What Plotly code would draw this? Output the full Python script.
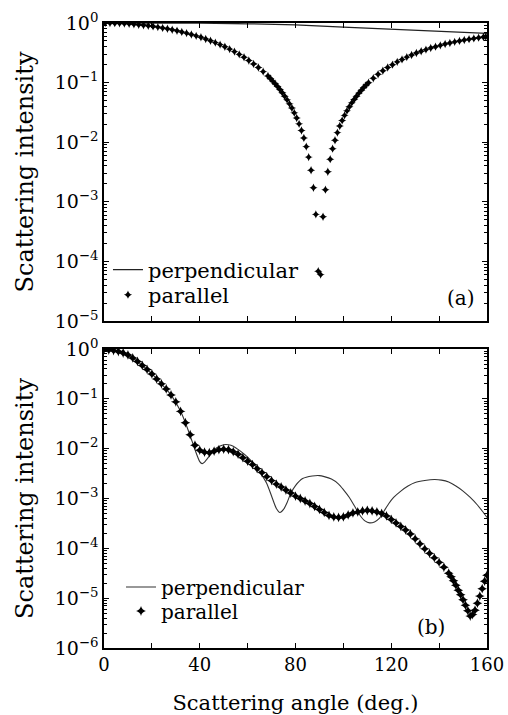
import plotly.graph_objects as go

# ---------------- panel (a) ----------------
angle_a_par = [0.5, 2.5, 4.5, 6.5, 8.5, 10.5, 12.5, 14.5, 16.5, 18.5, 20.5, 22.5, 24.5, 26.5,
               28.5, 30.5, 32.5, 34.5, 36.5, 38.5, 40.5, 42.5, 44.5, 46.5, 48.5, 50.5, 52.5,
               54.5, 56.5, 58.5, 60.5, 62.5, 64.5, 66.5, 68.5, 69.5, 70.5, 71.5, 72.5, 73.5,
               74.5, 75.5, 76.5, 77.5, 78.5, 79.5, 80.5, 81.5, 82.5, 83.5, 84.5, 85.5, 86.5,
               87.5, 88.5, 89.5, 90.5, 91.5, 92.5, 93.5, 94.5, 95.5, 96.5, 97.5, 98.5, 99.5,
               100.5, 101.5, 102.5, 103.5, 104.5, 105.5, 106.5, 107.5, 108.5, 109.5, 110.5,
               112.5, 114.5, 116.5, 118.5, 120.5, 122.5, 124.5, 126.5, 128.5, 130.5, 132.5,
               134.5, 136.5, 138.5, 140.5, 142.5, 144.5, 146.5, 148.5, 150.5, 152.5, 154.5,
               156.5, 158.5, 159.5]
parallel_a = [1.0, 0.998, 0.994, 0.987, 0.978, 0.967, 0.953, 0.937, 0.919, 0.899, 0.877, 0.853,
              0.827, 0.800, 0.771, 0.741, 0.709, 0.677, 0.643, 0.609, 0.575, 0.540, 0.504, 0.469,
              0.434, 0.399, 0.365, 0.331, 0.298, 0.266, 0.235, 0.206, 0.179, 0.153, 0.129, 0.117,
              0.106, 0.0960, 0.0859, 0.0765, 0.0676, 0.0592, 0.0514, 0.0440, 0.0374, 0.0311,
              0.0254, 0.0203, 0.0157, 0.0118, 0.00843, 0.00562, 0.00339, 0.00172, 0.000616,
              0.0000682, 0.0000600, 0.000560, 0.00160, 0.00320, 0.00520, 0.00780, 0.0108,
              0.0145, 0.0187, 0.0232, 0.0282, 0.0336, 0.0394, 0.0457, 0.0523, 0.0593, 0.0667,
              0.0745, 0.0826, 0.0910, 0.0999, 0.118, 0.138, 0.158, 0.179, 0.200, 0.223, 0.245,
              0.268, 0.291, 0.313, 0.336, 0.358, 0.380, 0.401, 0.422, 0.443, 0.463, 0.483, 0.501,
              0.518, 0.536, 0.552, 0.568, 0.582, 0.588]
angle_a_perp = [0, 20, 40, 60, 80, 100, 120, 140, 160]
perpendicular_a = [1.0, 1.0, 0.995, 0.97, 0.933, 0.85, 0.78, 0.71, 0.67]

# ---------------- panel (b) ----------------
angle_b_par = [0, 2, 4, 6, 8, 10, 12, 14, 16, 18, 20, 22, 24, 26, 28, 30, 32, 34, 36, 38, 40,
               42, 44, 46, 48, 50, 52, 54, 56, 58, 60, 62, 64, 66, 68, 70, 72, 74, 76, 78, 80,
               82, 84, 86, 88, 90, 92, 94, 96, 98, 100, 102, 104, 106, 108, 110, 112, 114, 116,
               118, 120, 122, 124, 126, 128, 130, 132, 134, 136, 138, 140, 142, 144, 145, 146,
               147, 148, 149, 150, 151, 152, 153, 154, 155, 156, 157, 158, 159, 160]
parallel_b = [0.977, 0.955, 0.933, 0.891, 0.832, 0.759, 0.661, 0.562, 0.468, 0.389, 0.316, 0.251,
              0.200, 0.158, 0.120, 0.0871, 0.0562, 0.0331, 0.0191, 0.0117, 0.00933, 0.00851,
              0.00832, 0.00891, 0.00955, 0.00977, 0.00955, 0.00871, 0.00776, 0.00661, 0.00562,
              0.00479, 0.00398, 0.00331, 0.00275, 0.00229, 0.00195, 0.00170, 0.00148, 0.00129,
              0.00112, 0.00100, 0.000891, 0.000794, 0.000692, 0.000603, 0.000525, 0.000457,
              0.000427, 0.000417, 0.000427, 0.000468, 0.000513, 0.000537, 0.000562, 0.000575,
              0.000562, 0.000537, 0.000501, 0.000447, 0.000380, 0.000324, 0.000275, 0.000234,
              0.000195, 0.000155, 0.000123, 0.0000977, 0.0000794, 0.0000646, 0.0000525,
              0.0000417, 0.0000316, 0.0000269, 0.0000224, 0.0000182, 0.0000145, 0.0000117,
              0.00000933, 0.00000724, 0.00000562, 0.00000437, 0.00000468, 0.00000575,
              0.00000794, 0.0000110, 0.0000155, 0.0000219, 0.0000288]
angle_b_perp = [0, 4, 8, 12, 16, 20, 24, 28, 32, 34, 36, 38, 40, 41, 42, 44, 46, 48, 50, 52, 54,
                57, 60, 62.5, 65, 68, 70, 72, 73.5, 75, 76.5, 78, 80, 83, 87, 90, 92, 95, 98,
                100, 102.5, 105, 107, 109, 111, 113, 115, 117, 119, 121, 124, 127, 130, 134,
                138, 141, 144, 147, 150, 153, 156, 158, 160]
perpendicular_b = [0.977, 0.933, 0.832, 0.661, 0.468, 0.316, 0.200, 0.120, 0.0562, 0.0331,
                   0.0182, 0.00955, 0.00550, 0.00501, 0.00537, 0.00708, 0.00933, 0.0110, 0.0120,
                   0.0120, 0.0112, 0.00891, 0.00676, 0.00501, 0.00347, 0.00200, 0.00112,
                   0.000631, 0.000525, 0.000603, 0.000832, 0.00126, 0.00182, 0.00251, 0.00282,
                   0.00288, 0.00275, 0.00245, 0.00195, 0.00151, 0.00105, 0.000661, 0.000457,
                   0.000355, 0.000324, 0.000339, 0.000398, 0.000562, 0.000794, 0.00105, 0.00141,
                   0.00178, 0.00209, 0.00229, 0.00240, 0.00234, 0.00214, 0.00178, 0.00141,
                   0.00105, 0.000741, 0.000562, 0.000417]

x_tick_vals = [0, 40, 80, 120, 160]
x_tick_text = ["0", "40", "80", "120", "160"]
ya_tick_vals = [1, 0.1, 0.01, 0.001, 0.0001, 0.00001]
ya_tick_text = ["10<sup>0</sup>", "10<sup>−1</sup>", "10<sup>−2</sup>", "10<sup>−3</sup>",
                "10<sup>−4</sup>", "10<sup>−5</sup>"]
yb_tick_vals = [1, 0.1, 0.01, 0.001, 0.0001, 0.00001, 0.000001]
yb_tick_text = ya_tick_text + ["10<sup>−6</sup>"]

FONT = "DejaVu Serif"
minor_vals = [m * 10.0 ** e for e in range(-6, 0) for m in range(2, 10)]

fig = go.Figure()
fig.add_trace(go.Scatter(x=angle_a_perp, y=perpendicular_a, mode="lines", name="perpendicular",
                         line=dict(color="#222", width=1.3), xaxis="x", yaxis="y", legend="legend"))
fig.add_trace(go.Scatter(x=angle_a_par, y=parallel_a, mode="markers", name="parallel",
                         marker=dict(symbol="star-diamond", size=6, color="black"),
                         xaxis="x", yaxis="y", legend="legend2"))
fig.add_trace(go.Scatter(x=angle_b_perp, y=perpendicular_b, mode="lines", name="perpendicular",
                         line=dict(color="#333", width=1.1, shape="spline", smoothing=0.6),
                         xaxis="x2", yaxis="y2", legend="legend3"))
fig.add_trace(go.Scatter(x=angle_b_par, y=parallel_b, mode="markers", name="parallel",
                         marker=dict(symbol="star-diamond", size=7, color="black"),
                         xaxis="x2", yaxis="y2", legend="legend4"))

axis_common = dict(showline=True, linecolor="black", linewidth=1.5, mirror="allticks",
                   ticks="inside", tickcolor="black", showgrid=False, zeroline=False,
                   automargin=False)

leg_common = dict(xanchor="left", yanchor="middle", bgcolor="rgba(0,0,0,0)",
                  borderwidth=0, tracegroupgap=0)

fig.update_layout(
    width=508, height=715,
    margin=dict(l=104, r=21, t=23, b=67),
    paper_bgcolor="white", plot_bgcolor="white",
    font=dict(family=FONT, color="black", size=17),
    showlegend=True,
    xaxis=dict(domain=[0, 1], anchor="y", range=[0, 160], tickvals=x_tick_vals,
               showticklabels=False, ticklen=5,
               minor=dict(tickvals=[20, 60, 100, 140], ticks="inside", ticklen=5, tickcolor="black"),
               **axis_common),
    yaxis=dict(domain=[0.5232, 1], anchor="x", type="log", range=[-5, 0],
               tickvals=ya_tick_vals, ticktext=ya_tick_text, ticklen=5, tickfont=dict(size=19),
               minor=dict(tickvals=minor_vals, ticks="inside", ticklen=3, tickcolor="black"),
               title=dict(text="Scattering intensity", font=dict(size=24), standoff=14),
               **axis_common),
    xaxis2=dict(domain=[0, 1], anchor="y2", range=[0, 160], tickvals=x_tick_vals,
                ticktext=x_tick_text, ticklen=5, ticklabeloverflow="allow", tickfont=dict(size=18),
                minor=dict(tickvals=[20, 60, 100, 140], ticks="inside", ticklen=5, tickcolor="black"),
                title=dict(text="Scattering angle (deg.)", font=dict(size=21), standoff=21),
                **axis_common),
    yaxis2=dict(domain=[0, 0.4784], anchor="x2", type="log", range=[-6, 0],
                tickvals=yb_tick_vals, ticktext=yb_tick_text, ticklen=5, tickfont=dict(size=19),
                minor=dict(tickvals=minor_vals, ticks="inside", ticklen=3, tickcolor="black"),
                title=dict(text="Scattering intensity", font=dict(size=24), standoff=14),
                **axis_common),
    legend=dict(x=0.0104, y=0.6048, font=dict(size=21), **leg_common),
    legend2=dict(x=0.0104, y=0.5648, font=dict(size=21), **leg_common),
    legend3=dict(x=0.0444, y=0.0976, font=dict(size=20), **leg_common),
    legend4=dict(x=0.0444, y=0.0592, font=dict(size=20), **leg_common),
    annotations=[
        dict(text="(a)", xref="x domain", yref="y domain", x=0.974, y=0.077, xanchor="right",
             yanchor="middle", showarrow=False, font=dict(size=20)),
        dict(text="(b)", xref="x2 domain", yref="y2 domain", x=0.896, y=0.070, xanchor="right",
             yanchor="middle", showarrow=False, font=dict(size=20)),
    ],
)

# remove the browser's default 8px body margin so the 508x715 figure fills the window exactly
fig.write_html("out.html",
               config={"displayModeBar": False},
               post_script="document.body.style.margin='0';document.body.style.overflow='hidden';")
